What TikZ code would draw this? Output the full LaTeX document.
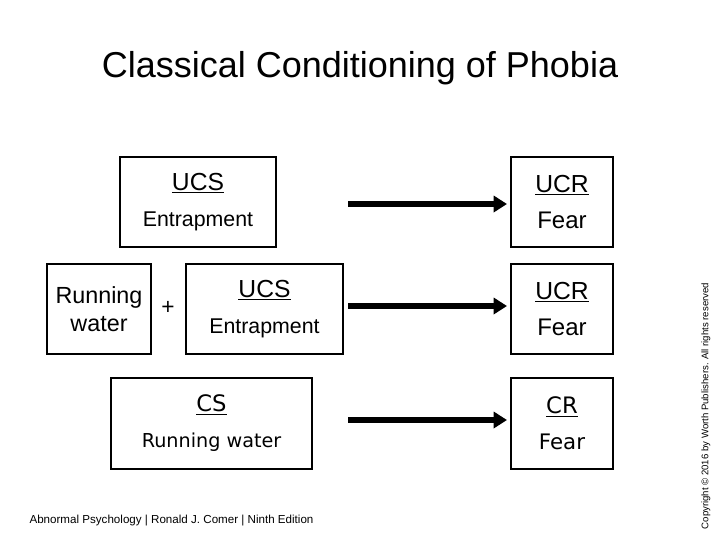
\documentclass[tikz,border=0pt]{standalone}
\usepackage{fontspec}
\setmainfont{Liberation Sans}
\newfontfamily\tahfont{DejaVu Sans}
\usetikzlibrary{arrows.meta}
\newcommand\headline[2]{{\fontsize{#1}{20}\selectfont\underline{#2}}}
\tikzset{
  box/.style={draw, line width=2pt, align=center, inner sep=0pt, minimum height=67.5pt},
  bigarrow/.style={line width=4.8pt, -{Triangle[length=10pt,width=12pt]}, shorten >=2pt},
}
\begin{document}
\begin{tikzpicture}[x=0.75pt,y=0.75pt,yscale=-1,xscale=1]
            \useasboundingbox[fill=white] (0,0) rectangle (720,540);
            \node[font=\fontsize{27}{30}\selectfont] (title) at (360,68) {Classical Conditioning of Phobia};
            \node[box, minimum width=117pt, font=\fontsize{16}{19}\selectfont] (ucsA) at (198,202) {\headline{18.5}{UCS}\\[8pt]Entrapment};
            \node[box, minimum width=76.5pt, font=\fontsize{18}{19}\selectfont] (ucrA) at (562,202) {\headline{18.5}{UCR}\\[8pt]Fear};
            \node[box, minimum width=78pt, font=\fontsize{17.5}{21}\selectfont] (runB) at (99,309) {Running\\water};
            \node[font=\fontsize{17}{19}\selectfont] (plus) at (168,308) {+};
            \node[box, minimum width=117.75pt, font=\fontsize{16}{19}\selectfont] (ucsB) at (264.5,309) {\headline{18.5}{UCS}\\[8pt]Entrapment};
            \node[box, minimum width=76.5pt, font=\fontsize{18}{19}\selectfont] (ucrB) at (562,309) {\headline{18.5}{UCR}\\[8pt]Fear};
            \node[box, minimum width=150.75pt, minimum height=68.25pt, font=\tahfont\fontsize{14.4}{18}\selectfont] (csC) at (211.5,423.5) {\headline{17}{CS}\\[9pt]Running water};
            \node[box, minimum width=76.5pt, minimum height=68.25pt, font=\tahfont\fontsize{16}{18}\selectfont] (crC) at (562,423.5) {\headline{17}{CR}\\[9pt]Fear};
            \coordinate (startA) at (348,204);
            \coordinate (startB) at (348,306);
            \coordinate (startC) at (348,420);
            \draw[bigarrow] (startA) -- (ucrA.west |- startA);
            \draw[bigarrow] (startB) -- (ucrB.west |- startB);
            \draw[bigarrow] (startC) -- (crC.west |- startC);
            \node[font=\fontsize{8.7}{10}\selectfont] (footer) at (171.5,521) {Abnormal Psychology | Ronald J. Comer | Ninth Edition};
            \node[rotate=90, font=\fontsize{7.2}{8}\selectfont] (copy) at (706,406) {Copyright \textcopyright{} 2016 by Worth Publishers. All rights reserved};
        \end{tikzpicture}
\end{document}
